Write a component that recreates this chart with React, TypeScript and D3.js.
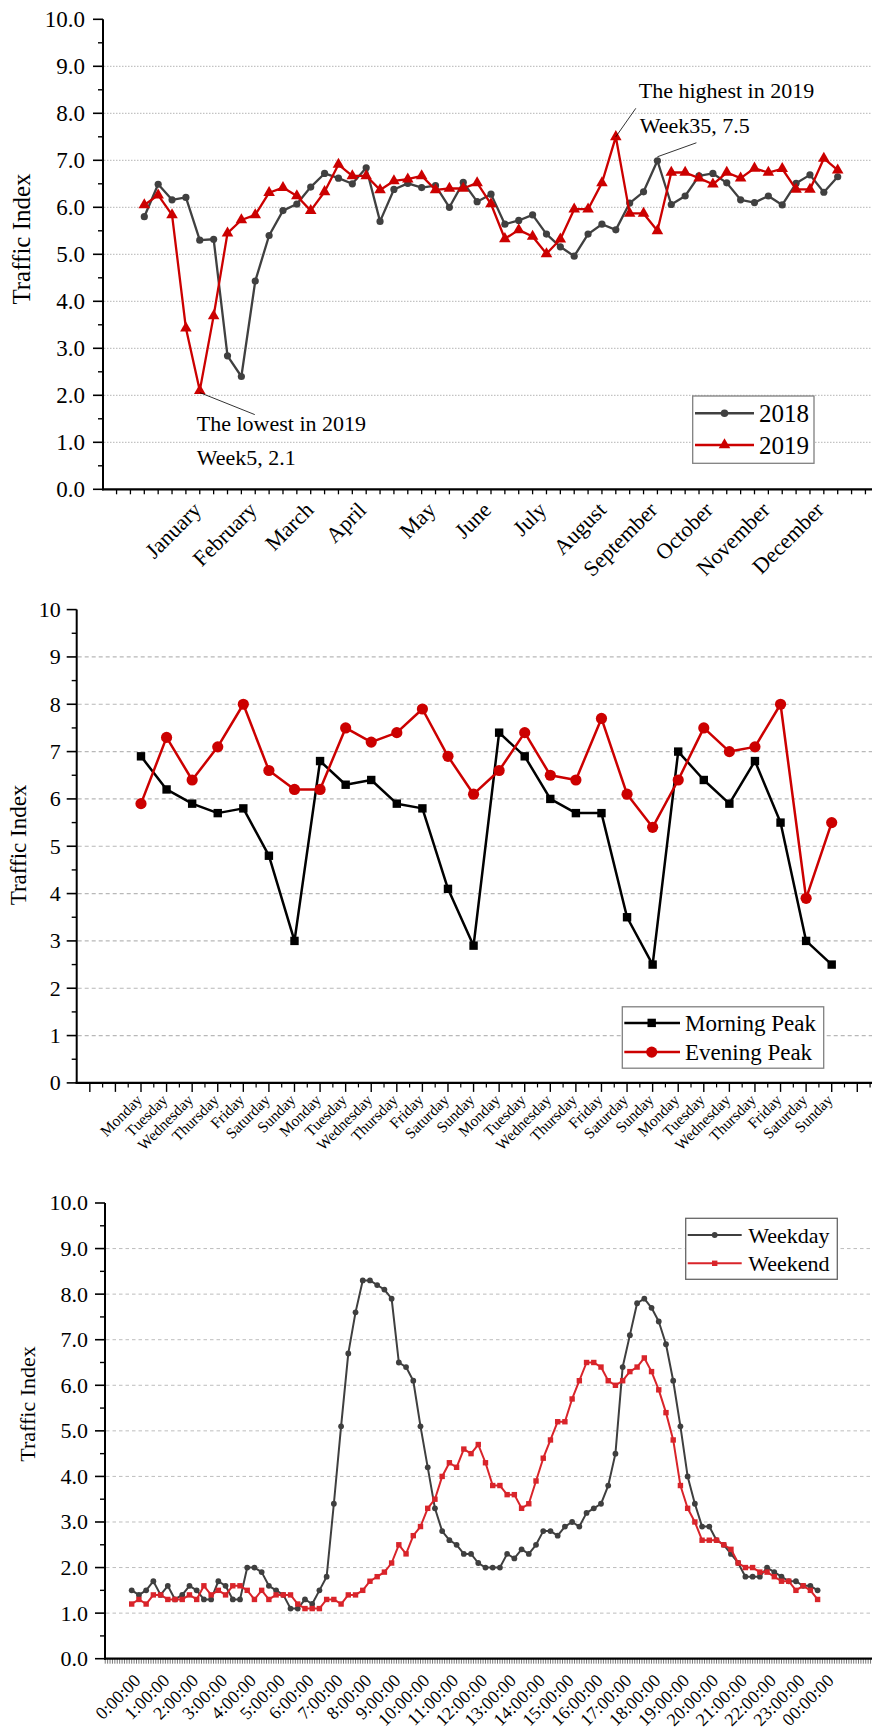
import React from "react";
import * as d3 from "d3";

const FONT = "'Liberation Serif', 'Times New Roman', Times, serif";

// ---------- Weekly traffic index, 2018 vs 2019 ----------
const weekNumbers = d3.range(1, 52);
const index2018 = [
  5.8, 6.49, 6.16, 6.21, 5.3, 5.32, 2.84, 2.4, 4.43, 5.4, 5.93, 6.07, 6.43, 6.72, 6.62, 6.5, 6.84,
  5.7, 6.38, 6.51, 6.42, 6.46, 6.0, 6.53, 6.12, 6.28, 5.64, 5.72, 5.84, 5.43, 5.16, 4.96, 5.43, 5.64,
  5.52, 6.09, 6.33, 6.99, 6.06, 6.24, 6.67, 6.72, 6.52, 6.16, 6.1, 6.24, 6.05, 6.51, 6.69, 6.32, 6.65,
];
const index2019 = [
  6.05, 6.26, 5.84, 3.43, 2.1, 3.69, 5.45, 5.73, 5.84, 6.31, 6.42, 6.24, 5.93, 6.33, 6.91, 6.67, 6.67,
  6.37, 6.56, 6.6, 6.67, 6.37, 6.4, 6.4, 6.52, 6.07, 5.33, 5.52, 5.38, 5.01, 5.32, 5.96, 5.96, 6.52,
  7.5, 5.87, 5.87, 5.5, 6.74, 6.74, 6.62, 6.49, 6.74, 6.62, 6.83, 6.74, 6.82, 6.38, 6.38, 7.04, 6.79,
];
const monthNames = [
  "January", "February", "March", "April", "May", "June",
  "July", "August", "September", "October", "November", "December",
];
const monthLabelWeeks = [5.2, 9.2, 13.3, 17.1, 22.1, 26.1, 30.1, 34.4, 38.1, 42.1, 46.2, 50.1];
const weeklyYTicks = [0, 1, 2, 3, 4, 5, 6, 7, 8, 9, 10];
const lowestWeek = 5;
const highestWeek = 35;
const peak2018Week = 38;

// ---------- Morning / evening peaks over four weeks ----------
const dayLabels = [
  "Monday", "Tuesday", "Wednesday", "Thursday", "Friday", "Saturday", "Sunday",
  "Monday", "Tuesday", "Wednesday", "Thursday", "Friday", "Saturday", "Sunday",
  "Monday", "Tuesday", "Wednesday", "Thursday", "Friday", "Saturday", "Sunday",
  "Monday", "Tuesday", "Wednesday", "Thursday", "Friday", "Saturday", "Sunday",
];
const morningPeak = [
  6.9, 6.2, 5.9, 5.7, 5.8, 4.8, 3.0,
  6.8, 6.3, 6.4, 5.9, 5.8, 4.1, 2.9,
  7.4, 6.9, 6.0, 5.7, 5.7, 3.5, 2.5,
  7.0, 6.4, 5.9, 6.8, 5.5, 3.0, 2.5,
];
const eveningPeak = [
  5.9, 7.3, 6.4, 7.1, 8.0, 6.6, 6.2,
  6.2, 7.5, 7.2, 7.4, 7.9, 6.9, 6.1,
  6.6, 7.4, 6.5, 6.4, 7.7, 6.1, 5.4,
  6.4, 7.5, 7.0, 7.1, 8.0, 3.9, 5.5,
];
const dailyYTicks = [0, 1, 2, 3, 4, 5, 6, 7, 8, 9, 10];

// ---------- Intraday profile, one value per 15 minutes ----------
const weekdayProfile = [
  1.5, 1.4, 1.5, 1.7, 1.4, 1.6, 1.3, 1.4, 1.6, 1.5, 1.3, 1.3,
  1.7, 1.6, 1.3, 1.3, 2.0, 2.0, 1.9, 1.6, 1.5, 1.4, 1.1, 1.1,
  1.3, 1.2, 1.5, 1.8, 3.4, 5.1, 6.7, 7.6, 8.3, 8.3, 8.2, 8.1,
  7.9, 6.5, 6.4, 6.1, 5.1, 4.2, 3.3, 2.8, 2.6, 2.5, 2.3, 2.3,
  2.1, 2.0, 2.0, 2.0, 2.3, 2.2, 2.4, 2.3, 2.5, 2.8, 2.8, 2.7,
  2.9, 3.0, 2.9, 3.2, 3.3, 3.4, 3.8, 4.5, 6.4, 7.1, 7.8, 7.9,
  7.7, 7.4, 6.9, 6.1, 5.1, 4.0, 3.4, 2.9, 2.9, 2.6, 2.5, 2.3,
  2.1, 1.8, 1.8, 1.8, 2.0, 1.9, 1.8, 1.7, 1.7, 1.6, 1.6, 1.5,
];
const weekendProfile = [
  1.2, 1.3, 1.2, 1.4, 1.4, 1.3, 1.3, 1.3, 1.4, 1.3, 1.6, 1.4,
  1.5, 1.4, 1.6, 1.6, 1.5, 1.3, 1.5, 1.3, 1.4, 1.4, 1.4, 1.2,
  1.1, 1.1, 1.1, 1.3, 1.3, 1.2, 1.4, 1.4, 1.5, 1.7, 1.8, 1.9,
  2.1, 2.5, 2.3, 2.7, 2.9, 3.3, 3.5, 4.0, 4.3, 4.2, 4.6, 4.5,
  4.7, 4.3, 3.8, 3.8, 3.6, 3.6, 3.3, 3.4, 3.9, 4.4, 4.8, 5.2,
  5.2, 5.7, 6.1, 6.5, 6.5, 6.4, 6.1, 6.0, 6.1, 6.3, 6.4, 6.6,
  6.3, 5.9, 5.4, 4.8, 3.8, 3.3, 3.0, 2.6, 2.6, 2.6, 2.5, 2.4,
  2.1, 2.0, 2.0, 1.9, 1.9, 1.8, 1.7, 1.7, 1.5, 1.6, 1.5, 1.3,
];
const hourLabels = [
  "0:00:00", "1:00:00", "2:00:00", "3:00:00", "4:00:00", "5:00:00", "6:00:00", "7:00:00",
  "8:00:00", "9:00:00", "10:00:00", "11:00:00", "12:00:00", "13:00:00", "14:00:00", "15:00:00",
  "16:00:00", "17:00:00", "18:00:00", "19:00:00", "20:00:00", "21:00:00", "22:00:00", "23:00:00",
  "00:00:00",
];
const slotsPerHour = 4;
const hourlyYTicks = [0, 1, 2, 3, 4, 5, 6, 7, 8, 9, 10];

// ---------- shared pieces ----------
const RIGHT_EDGE = 872;

type Scale = d3.ScaleLinear<number, number>;

function YAxis(props: {
  x: number;
  scale: Scale;
  ticks: number[];
  fmt: (v: number) => string;
  fontSize: number;
  gap: number;
}) {
  const { x, scale, ticks, fmt, fontSize, gap } = props;
  const minor = ticks.slice(0, -1).map((t) => t + 0.5);
  const [yBottom, yTop] = scale.range();
  return (
    <g>
      {ticks.map((t) => (
        <line key={"M" + t} x1={x - 10} x2={x} y1={scale(t)} y2={scale(t)} stroke="#000" strokeWidth={1.6} />
      ))}
      {minor.map((t) => (
        <line key={"m" + t} x1={x - 5} x2={x} y1={scale(t)} y2={scale(t)} stroke="#000" strokeWidth={1.4} />
      ))}
      {ticks.map((t) => (
        <text key={"L" + t} x={x - gap} y={scale(t)} dy="0.34em" textAnchor="end" fontSize={fontSize}>
          {fmt(t)}
        </text>
      ))}
      <line x1={x} x2={x} y1={yBottom + 1} y2={yTop} stroke="#000" strokeWidth={2} />
    </g>
  );
}

function Grid(props: { x: number; scale: Scale; values: number[]; dash: string; color: string; width: number }) {
  const { x, scale, values, dash, color, width } = props;
  return (
    <g>
      {values.map((v) => (
        <line
          key={v}
          x1={x + 1}
          x2={RIGHT_EDGE}
          y1={scale(v)}
          y2={scale(v)}
          stroke={color}
          strokeWidth={width}
          strokeDasharray={dash}
        />
      ))}
    </g>
  );
}

function Title(props: { x: number; y: number; size: number }) {
  return (
    <text
      transform={`translate(${props.x},${props.y}) rotate(-90)`}
      textAnchor="middle"
      dy="0.35em"
      fontSize={props.size}
    >
      Traffic Index
    </text>
  );
}

function Legend(props: {
  box: [number, number, number, number];
  lineX: [number, number];
  textX: number;
  rows: { y: number; label: string; color: string; width: number; marker: React.ReactNode }[];
  fontSize: number;
  boxColor: string;
}) {
  const { box, lineX, textX, rows, fontSize, boxColor } = props;
  return (
    <g>
      <rect x={box[0]} y={box[1]} width={box[2]} height={box[3]} fill="#fff" stroke={boxColor} strokeWidth={1.3} />
      {rows.map((r) => (
        <g key={r.label}>
          <line x1={lineX[0]} x2={lineX[1]} y1={r.y} y2={r.y} stroke={r.color} strokeWidth={r.width} />
          {r.marker}
          <text x={textX} y={r.y} dy="0.35em" fontSize={fontSize}>
            {r.label}
          </text>
        </g>
      ))}
    </g>
  );
}

// ---------- panel 1: weekly ----------
function WeeklyPanel() {
  const axisX = 103;
  const x = d3.scaleLinear().domain([1, 51]).range([144.3, 837.7]);
  const y = d3.scaleLinear().domain([0, 10]).range([489.3, 19.3]);
  const axisY = y(0);
  const tri = d3.symbol().type(d3.symbolTriangle).size(58);
  const line = d3
    .line<number>()
    .x((_, i) => x(weekNumbers[i]))
    .y((v) => y(v));
  const c2018 = "#404040";
  const c2019 = "#cc0000";
  const weekTicks = d3.range(-1, 54);

  const lowX = x(lowestWeek);
  const lowY = y(index2019[lowestWeek - 1]);
  const hiX = x(highestWeek);
  const hiY = y(index2019[highestWeek - 1]);
  const pk8X = x(peak2018Week);
  const pk8Y = y(index2018[peak2018Week - 1]);

  return (
    <g>
      <Grid x={axisX} scale={y} values={[1, 2, 3, 4, 5, 6, 7, 8, 9]} dash="1.5,1.5" color="#b5b5b5" width={1} />
      {weekTicks.map((w) => (
        <line key={w} x1={x(w)} x2={x(w)} y1={axisY} y2={axisY + 5} stroke="#000" strokeWidth={1.3} />
      ))}
      <line x1={axisX - 1} x2={RIGHT_EDGE} y1={axisY} y2={axisY} stroke="#000" strokeWidth={2.2} />
      <YAxis x={axisX} scale={y} ticks={weeklyYTicks} fmt={(v) => v.toFixed(1)} fontSize={23} gap={18} />
      <Title x={21} y={239} size={25} />
      {monthNames.map((m, i) => (
        <text
          key={m}
          transform={`translate(${x(monthLabelWeeks[i])},${axisY + 22}) rotate(-45)`}
          textAnchor="end"
          fontSize={22}
        >
          {m}
        </text>
      ))}

      <path d={line(index2018) || ""} fill="none" stroke={c2018} strokeWidth={2.3} strokeLinejoin="round" />
      {index2018.map((v, i) => (
        <circle key={i} cx={x(weekNumbers[i])} cy={y(v)} r={3.6} fill={c2018} />
      ))}
      <path d={line(index2019) || ""} fill="none" stroke={c2019} strokeWidth={2.3} strokeLinejoin="round" />
      {index2019.map((v, i) => (
        <path key={i} d={tri() || ""} transform={`translate(${x(weekNumbers[i])},${y(v)})`} fill={c2019} />
      ))}

      {/* annotations */}
      <line x1={lowX} y1={lowY + 2} x2={lowX + 55} y2={lowY + 24} stroke="#000" strokeWidth={0.8} />
      <text x={lowX - 3} y={lowY + 40} fontSize={22}>
        The lowest in 2019
      </text>
      <text x={lowX - 3} y={lowY + 74} fontSize={22}>
        {`Week${lowestWeek}, ${index2019[lowestWeek - 1].toFixed(1)}`}
      </text>
      <line x1={hiX} y1={hiY} x2={hiX + 20} y2={hiY - 28.5} stroke="#000" strokeWidth={0.8} />
      <line x1={pk8X} y1={pk8Y - 4} x2={pk8X + 39} y2={pk8Y - 18} stroke="#000" strokeWidth={0.8} />
      <text x={hiX + 23} y={hiY - 39} fontSize={22}>
        The highest in 2019
      </text>
      <text x={hiX + 24} y={hiY - 4} fontSize={22}>
        {`Week${highestWeek}, ${index2019[highestWeek - 1].toFixed(1)}`}
      </text>

      <Legend
        box={[692.7, 396, 121.3, 67.3]}
        lineX={[695, 754]}
        textX={759}
        fontSize={25}
        boxColor="#808080"
        rows={[
          {
            y: 413.3,
            label: "2018",
            color: c2018,
            width: 2.5,
            marker: <circle cx={724.5} cy={413.3} r={3.8} fill={c2018} />,
          },
          {
            y: 445,
            label: "2019",
            color: c2019,
            width: 2.5,
            marker: <path d={tri() || ""} transform="translate(724.5,445)" fill={c2019} />,
          },
        ]}
      />
    </g>
  );
}

// ---------- panel 2: daily peaks ----------
function DailyPanel() {
  const axisX = 76.7;
  const x = d3.scaleLinear().domain([0, 27]).range([141, 831.7]);
  const y = d3.scaleLinear().domain([0, 10]).range([1082.9, 609.6]);
  const axisY = y(0);
  const line = d3
    .line<number>()
    .x((_, i) => x(i))
    .y((v) => y(v));
  const cMorning = "#000000";
  const cEvening = "#cc0000";
  const major = d3.range(-2, 29);
  const minor = d3.range(-1.5, 29, 1);

  return (
    <g>
      <Grid x={axisX} scale={y} values={[1, 2, 3, 4, 5, 6, 7, 8, 9]} dash="4,3" color="#b8b8b8" width={1.2} />
      {major.map((t) => (
        <line key={"M" + t} x1={x(t)} x2={x(t)} y1={axisY} y2={axisY + 9} stroke="#000" strokeWidth={1.4} />
      ))}
      {minor.map((t) => (
        <line key={"m" + t} x1={x(t)} x2={x(t)} y1={axisY} y2={axisY + 4.5} stroke="#000" strokeWidth={1.2} />
      ))}
      <line x1={axisX - 1} x2={RIGHT_EDGE} y1={axisY} y2={axisY} stroke="#000" strokeWidth={2.2} />
      <YAxis x={axisX} scale={y} ticks={dailyYTicks} fmt={(v) => String(v)} fontSize={22} gap={16} />
      <Title x={18} y={845} size={23} />
      {dayLabels.map((d, i) => (
        <text
          key={i}
          transform={`translate(${x(i) + 2},${axisY + 18}) rotate(-45)`}
          textAnchor="end"
          fontSize={15.5}
        >
          {d}
        </text>
      ))}

      <path d={line(morningPeak) || ""} fill="none" stroke={cMorning} strokeWidth={2.5} strokeLinejoin="round" />
      {morningPeak.map((v, i) => (
        <rect key={i} x={x(i) - 4.2} y={y(v) - 4.2} width={8.4} height={8.4} fill={cMorning} />
      ))}
      <path d={line(eveningPeak) || ""} fill="none" stroke={cEvening} strokeWidth={2.5} strokeLinejoin="round" />
      {eveningPeak.map((v, i) => (
        <circle key={i} cx={x(i)} cy={y(v)} r={5.6} fill={cEvening} />
      ))}

      <Legend
        box={[622.3, 1006.8, 201.4, 61.4]}
        lineX={[624.3, 680]}
        textX={685}
        fontSize={23}
        boxColor="#808080"
        rows={[
          {
            y: 1022.9,
            label: "Morning Peak",
            color: cMorning,
            width: 2.5,
            marker: <rect x={651.7 - 4.2} y={1022.9 - 4.2} width={8.4} height={8.4} fill={cMorning} />,
          },
          {
            y: 1052.1,
            label: "Evening Peak",
            color: cEvening,
            width: 2.5,
            marker: <circle cx={651.7} cy={1052.1} r={5.6} fill={cEvening} />,
          },
        ]}
      />
    </g>
  );
}

// ---------- panel 3: intraday profile ----------
function HourlyPanel() {
  const axisX = 105;
  const x = d3.scaleLinear().domain([0, 95]).range([131.7, 817.6]);
  const y = d3.scaleLinear().domain([0, 10]).range([1658.7, 1203]);
  const axisY = y(0);
  const line = d3
    .line<number>()
    .x((_, i) => x(i))
    .y((v) => y(v));
  const cWeekday = "#3f3f3f";
  const cWeekend = "#d9242a";
  const fineTicks = d3.range(-11, 308).map((k) => k / 3);

  return (
    <g>
      <Grid x={axisX} scale={y} values={[1, 2, 3, 4, 5, 6, 7, 8, 9]} dash="3.5,3" color="#bdbdbd" width={1} />
      {fineTicks.map((t) => (
        <line key={t} x1={x(t)} x2={x(t)} y1={axisY} y2={axisY + 5} stroke="#6a6a6a" strokeWidth={0.9} />
      ))}
      <line x1={axisX - 1} x2={RIGHT_EDGE} y1={axisY} y2={axisY} stroke="#000" strokeWidth={2.2} />
      <YAxis x={axisX} scale={y} ticks={hourlyYTicks} fmt={(v) => v.toFixed(1)} fontSize={22} gap={17} />
      <Title x={27} y={1404} size={22} />
      {hourLabels.map((h, i) => (
        <text
          key={i}
          transform={`translate(${x(i * slotsPerHour) + 10},${axisY + 23}) rotate(-45)`}
          textAnchor="end"
          fontSize={18}
        >
          {h}
        </text>
      ))}

      <path d={line(weekdayProfile) || ""} fill="none" stroke={cWeekday} strokeWidth={2} strokeLinejoin="round" />
      {weekdayProfile.map((v, i) => (
        <circle key={i} cx={x(i)} cy={y(v)} r={2.9} fill={cWeekday} />
      ))}
      <path d={line(weekendProfile) || ""} fill="none" stroke={cWeekend} strokeWidth={2} strokeLinejoin="round" />
      {weekendProfile.map((v, i) => (
        <rect key={i} x={x(i) - 2.7} y={y(v) - 2.7} width={5.4} height={5.4} fill={cWeekend} />
      ))}

      <Legend
        box={[685.7, 1218.3, 151.6, 61]}
        lineX={[687.7, 741.7]}
        textX={748.3}
        fontSize={22}
        boxColor="#666"
        rows={[
          {
            y: 1235,
            label: "Weekday",
            color: cWeekday,
            width: 2,
            marker: <circle cx={714.7} cy={1235} r={2.9} fill={cWeekday} />,
          },
          {
            y: 1263.3,
            label: "Weekend",
            color: cWeekend,
            width: 2,
            marker: <rect x={714.7 - 2.7} y={1263.3 - 2.7} width={5.4} height={5.4} fill={cWeekend} />,
          },
        ]}
      />
    </g>
  );
}

export default function App() {
  return (
    <svg
      width={872}
      height={1736}
      viewBox="0 0 872 1736"
      style={{ position: "absolute", left: 0, top: 0, background: "#fff", display: "block" }}
      fontFamily={FONT}
    >
      <rect x={0} y={0} width={872} height={1736} fill="#fff" />
      <WeeklyPanel />
      <DailyPanel />
      <HourlyPanel />
    </svg>
  );
}
